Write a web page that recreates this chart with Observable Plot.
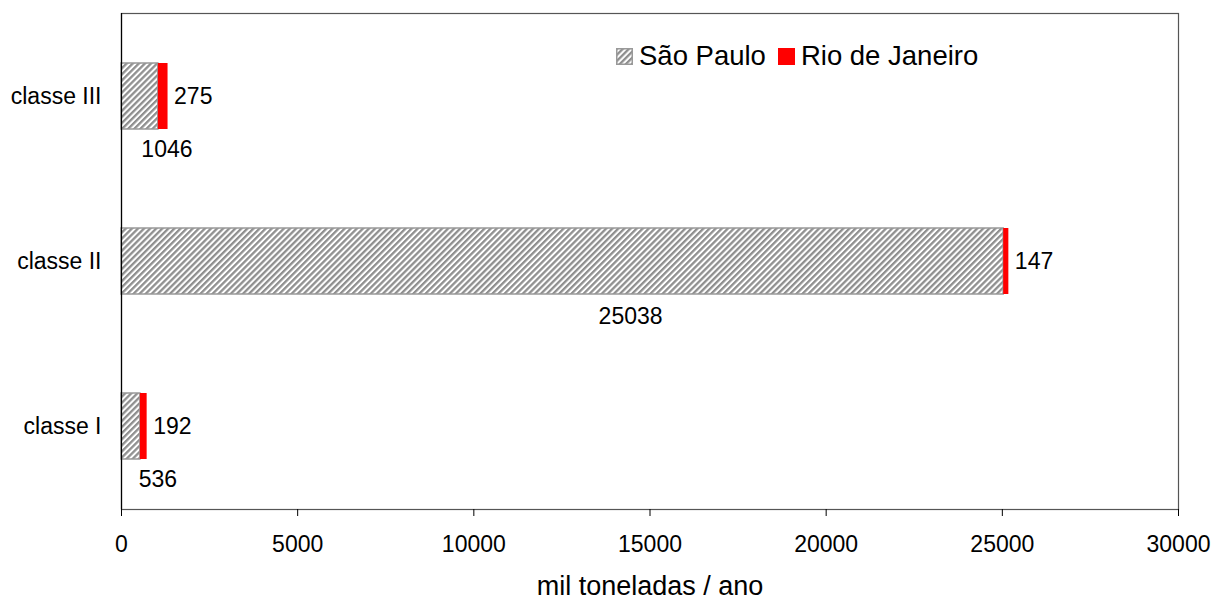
<!DOCTYPE html>
<html>
<head>
<meta charset="utf-8">
<script src="https://cdn.jsdelivr.net/npm/d3@7"></script>
<script src="https://cdn.jsdelivr.net/npm/@observablehq/plot@0.6"></script>
<style>
  body { margin: 0; background: #fff; font-family: "Liberation Sans", Arial, sans-serif; }
  #wrap { position: relative; width: 1213px; height: 599px; }
  #legend { position: absolute; left: 616px; top: 40px; display: flex; align-items: center; font-size: 27.5px; color: #000; white-space: nowrap; }
  #legend .sw { width: 17px; height: 17px; display: inline-block; margin-right: 6px; }
  #legend .item { display: flex; align-items: center; margin-right: 12px; }
</style>
</head>
<body>
<div id="wrap">
  <div id="chart"></div>
  <div id="legend"></div>
</div>
<script>
// Data
const categories = ["classe III", "classe II", "classe I"];
const saoPaulo = [1046, 25038, 536];
const rioDeJaneiro = [275, 147, 192];
const seriesNames = ["São Paulo", "Rio de Janeiro"];
const xTicks = [0, 5000, 10000, 15000, 20000, 25000, 30000];
const xLabel = "mil toneladas / ano";

const rows = categories.map((c, i) => ({cat: c, sp: saoPaulo[i], rj: rioDeJaneiro[i]}));

const hatchDefs = () => {
  const svg = d3.create("svg:defs");
  svg.html(`<pattern id="hatch" patternUnits="userSpaceOnUse" width="4.3" height="4.3" patternTransform="rotate(45)">
      <rect width="4.3" height="4.3" fill="#fff"/>
      <rect width="2.3" height="4.3" fill="#8f8f8f"/>
    </pattern>`);
  return svg.node();
};

const font = "'Liberation Sans', Arial, sans-serif";

const chart = Plot.plot({
  width: 1213,
  height: 599,
  marginLeft: 121,
  marginRight: 35,
  marginTop: 13,
  marginBottom: 90,
  style: {fontFamily: font, color: "#000", background: "#fff"},
  x: {domain: [0, 30000]},
  y: {domain: categories, paddingInner: 0.6, paddingOuter: 0.295},
  marks: [
    hatchDefs,
    Plot.frame({stroke: "#555", strokeWidth: 1.2}),
    Plot.barX(rows, {y: "cat", x1: 0, x2: "sp", fill: "url(#hatch)", stroke: "#999", strokeWidth: 1.5, inset: 0}),
    Plot.barX(rows, {y: "cat", x1: "sp", x2: d => d.sp + d.rj, fill: "#ff0000", inset: 0}),
    Plot.ruleX([0], {stroke: "#000", strokeWidth: 1.2}),
    Plot.axisX({ticks: xTicks, tickFormat: d3.format("d"), tickSize: 7, tickPadding: 19, fontSize: 23, label: null, stroke: "#000"}),
    Plot.axisY({tickSize: 0, tickPadding: 20, fontSize: 23, label: null}),
    Plot.text(rows, {y: "cat", x: d => d.sp + d.rj, text: d => String(d.rj), textAnchor: "start", dx: 6, fontSize: 23, fill: "#000"}),
    Plot.text(rows.filter(d => d.sp < 5000), {y: "cat", x: d => d.sp / 2, text: d => String(d.sp), dx: 27, dy: 53, fontSize: 23, fill: "#000"}),
    Plot.text(rows.filter(d => d.sp >= 5000), {y: "cat", x: d => d.sp / 2, text: d => String(d.sp), dx: 68, dy: 55, fontSize: 23, fill: "#000"}),
    Plot.text([xLabel], {frameAnchor: "bottom", text: d => d, dy: 85, fontSize: 27, fill: "#000"})
  ]
});
document.getElementById("chart").appendChild(chart);

// Legend
const legend = document.getElementById("legend");
const swatches = [
  `<svg class="sw" viewBox="0 0 17 17"><defs><pattern id="hatchL" patternUnits="userSpaceOnUse" width="4.3" height="4.3" patternTransform="rotate(45)"><rect width="4.3" height="4.3" fill="#fff"/><rect width="2.3" height="4.3" fill="#8f8f8f"/></pattern></defs><rect x="0.75" y="0.75" width="15.5" height="15.5" fill="url(#hatchL)" stroke="#999" stroke-width="1.5"/></svg>`,
  `<svg class="sw" viewBox="0 0 17 17"><rect width="17" height="17" fill="#ff0000"/></svg>`
];
seriesNames.forEach((name, i) => {
  const item = document.createElement("div");
  item.className = "item";
  item.innerHTML = swatches[i] + `<span>${name}</span>`;
  legend.appendChild(item);
});
</script>
</body>
</html>
